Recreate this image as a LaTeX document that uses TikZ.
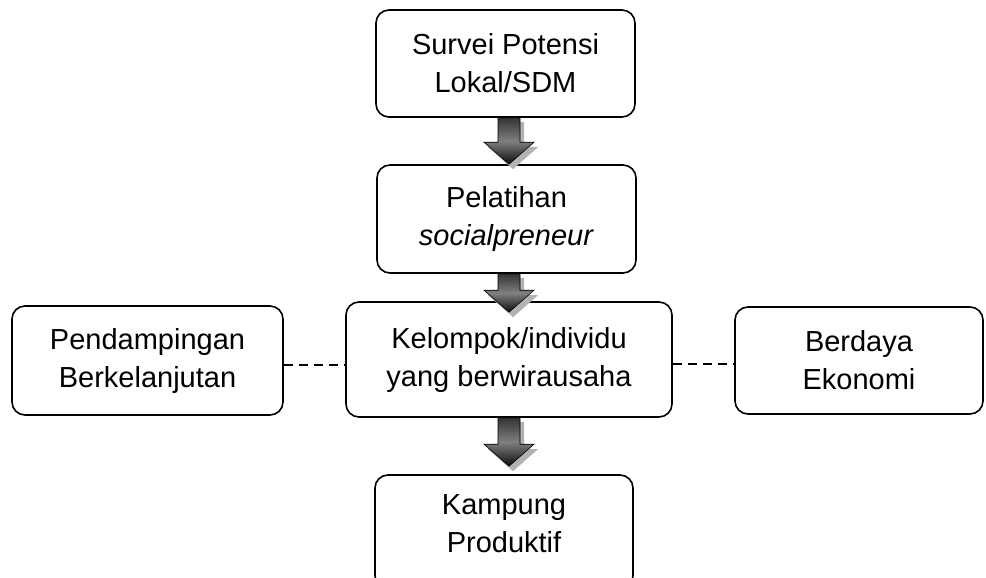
\documentclass[tikz,border=0pt]{standalone}
\usepackage{fontspec}
\setmainfont{Liberation Sans}
\usetikzlibrary{positioning,calc}
\tikzset{
  box/.style={draw, line width=1.6pt, rounded corners=13pt, align=center,
    inner sep=0pt, font=\fontsize{29}{38}\selectfont},
  link/.style={draw, line width=1.5pt, dash pattern=on 9pt off 6pt},
  arrowshade/.style={fill=black!30},
  arrowbody/.style={draw=black, line width=0.6pt, top color=black!80,
    bottom color=black!95, middle color=black!50},
}
% block arrow from #1 (top) down to #2 (tip)
\newcommand{\blockarrow}[2]{%
  \path[arrowshade] let \p1=#1, \p2=#2 in
    (\x1-7pt,\y1-4pt) -- (\x1+15pt,\y1-4pt) -- (\x1+15pt,\y2+17pt) -- (\x1+29pt,\y2+17pt)
    -- (\x1+4pt,\y2-5pt) -- (\x1-21pt,\y2+17pt) -- (\x1-7pt,\y2+17pt) -- cycle;
  \path[arrowbody] let \p1=#1, \p2=#2 in
    (\x1-11pt,\y1) -- (\x1+11pt,\y1) -- (\x1+11pt,\y2+22pt) -- (\x1+25pt,\y2+22pt)
    -- (\x1,\y2) -- (\x1-25pt,\y2+22pt) -- (\x1-11pt,\y2+22pt) -- cycle;
}

\begin{document}
\begin{tikzpicture}[x=1pt,y=-1pt]
    \useasboundingbox (0,0) rectangle (986,578);
    \node [box, minimum width=259pt, minimum height=107pt] (survei) at (505.5,63.5) {Survei Potensi\\Lokal/SDM};
    \node [box, minimum width=259pt, minimum height=108pt] (pelatihan) at (506.5,219) {Pelatihan\\\textit{socialpreneur}};
    \node [box, minimum width=326pt, minimum height=115pt] (kelompok) at (509,359.5) {Kelompok/individu\\yang berwirausaha};
    \node [box, minimum width=271pt, minimum height=109pt] (pendampingan) at (147.5,360.5) {Pendampingan\\Berkelanjutan};
    \node [box, minimum width=248pt, minimum height=107pt] (berdaya) at (859,360.5) {Berdaya\\Ekonomi};
    \node [box, minimum width=258pt, minimum height=114pt, text depth=16pt] (kampung) at (504,532) {Kampung\\Produktif};
    \draw [link] ([yshift=-4.5pt]pendampingan.east) -- ([yshift=-4.5pt]pendampingan.east -| kelompok.west);
    \draw [link] ([yshift=-4.5pt]kelompok.east) -- ([yshift=-4.5pt]kelompok.east -| berdaya.west);
    \blockarrow{(survei.south -| kelompok.center)}{(pelatihan.north -| kelompok.center)}
    \blockarrow{(pelatihan.south -| kelompok.center)}{([yshift=-11pt]kelompok.north)}
    \blockarrow{(kelompok.south)}{([yshift=8pt]kampung.north -| kelompok.center)}
\end{tikzpicture}
\end{document}
